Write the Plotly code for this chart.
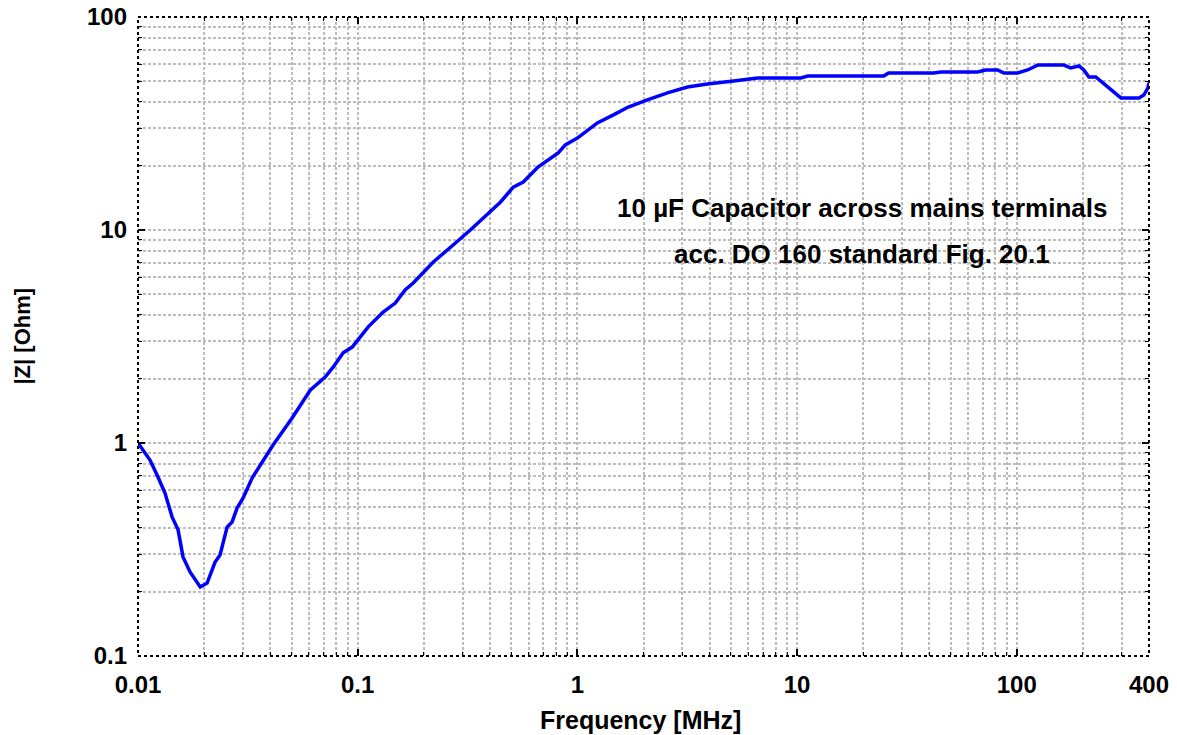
import plotly.graph_objects as go

# Frequency [MHz] and |Z| [Ohm]
freq_mhz = [0.010, 0.01134, 0.01233, 0.01327, 0.01429, 0.01522, 0.01603, 0.01725,
            0.0192, 0.02063, 0.02243, 0.02363, 0.02544, 0.02681, 0.02825, 0.0301,
            0.03307, 0.0367, 0.0412, 0.0503, 0.0608, 0.0711, 0.0773, 0.0859, 0.0944,
            0.1117, 0.1306, 0.1483, 0.1644, 0.179, 0.221, 0.272, 0.3256, 0.446, 0.511,
            0.567, 0.664, 0.818, 0.881, 1.0, 1.233, 1.459, 1.706, 2.084, 2.57, 3.17,
            3.91, 5.14, 6.61, 10.4, 11.2, 24.8, 26.1, 41.9, 45.1, 66.4, 72.2, 81.9,
            87.3, 101, 112, 125, 164, 176, 192, 202, 213, 229, 268, 298, 360, 379,
            395, 400]
z_ohm = [1.0, 0.832, 0.692, 0.582, 0.450, 0.391, 0.292, 0.248,
         0.211, 0.220, 0.276, 0.298, 0.403, 0.426, 0.495, 0.552,
         0.685, 0.805, 0.979, 1.31, 1.77, 2.04, 2.27, 2.65, 2.82,
         3.51, 4.12, 4.54, 5.23, 5.64, 7.08, 8.5, 10.0, 13.5, 15.9,
         16.8, 19.8, 23.0, 25.1, 27.0, 31.8, 34.7, 37.8, 40.8, 44.0, 46.9,
         48.5, 50.1, 51.7, 51.7, 52.8, 52.8, 54.6, 54.6, 55.2, 55.2, 56.4, 56.4,
         54.6, 54.6, 56.4, 59.5, 59.5, 57.6, 58.9, 56.4, 52.3, 52.3, 45.4, 41.7, 41.7, 43.0,
         46.4, 49.0]

x_tickvals = [0.01, 0.1, 1, 10, 100, 400]
x_ticktext = ["0.01", "0.1", "1", "10", "100", "400"]
y_tickvals = [0.1, 1, 10, 100]
y_ticktext = ["0.1", "1", "10", "100"]

x_minor = [k * 10.0 ** e for e in range(-2, 3) for k in range(2, 10) if k * 10.0 ** e < 400]
y_minor = [k * 10.0 ** e for e in range(-1, 2) for k in range(2, 10)]

x_title = "Frequency [MHz]"
y_title = "|Z| [Ohm]"
annotation_lines = ["10 µF Capacitor across mains terminals",
                    "acc. DO 160 standard Fig. 20.1"]

FONT = "Liberation Sans, Arial, sans-serif"
GRID = "#bcbcbc"
GRID_DASH = "3px,2px"

fig = go.Figure()
fig.add_trace(go.Scatter(x=freq_mhz, y=z_ohm, mode="lines",
                         line=dict(color="#0000ff", width=3.5), showlegend=False))

axis_common = dict(
    type="log", showline=False, zeroline=False, mirror="allticks", automargin=False,
    ticks="inside", ticklen=7, tickwidth=1.5, tickcolor="black",
    showgrid=True, gridcolor=GRID, gridwidth=1.5, griddash=GRID_DASH,
    tickfont=dict(family=FONT, size=24, color="black", weight="bold"),
)
minor_common = dict(ticks="inside", ticklen=4, tickcolor="black", tickwidth=1.2,
                    showgrid=True, gridcolor=GRID, gridwidth=1.5, griddash=GRID_DASH)

fig.update_xaxes(
    **axis_common,
    range=[-2, 2.60206],
    tickmode="array", tickvals=x_tickvals, ticktext=x_ticktext,
    ticklabelstandoff=12,
    minor=dict(tickmode="array", tickvals=x_minor, **minor_common),
)
fig.update_yaxes(
    **axis_common,
    range=[-1, 2],
    tickmode="array", tickvals=y_tickvals, ticktext=y_ticktext,
    ticklabelstandoff=10,
    minor=dict(tickmode="array", tickvals=y_minor, **minor_common),
)

# dotted frame around the plot area
fig.add_shape(type="rect", xref="paper", yref="paper", x0=0, x1=1, y0=0, y1=1,
              line=dict(color="black", width=2, dash="dot"), layer="above")

# axis titles
fig.add_annotation(xref="paper", yref="paper", x=0.4975, y=-0.100,
                   text="<b>" + x_title + "</b>", showarrow=False,
                   xanchor="center", yanchor="middle",
                   font=dict(family=FONT, size=25, color="black"))
fig.add_annotation(xref="paper", yref="paper", x=-0.1147, y=0.5,
                   text="<b>" + y_title + "</b>", showarrow=False, textangle=-90,
                   xanchor="center", yanchor="middle",
                   font=dict(family=FONT, size=22, color="black"))

for text, ypos in zip(annotation_lines, [0.701, 0.629]):
    fig.add_annotation(xref="paper", yref="paper", x=0.716, y=ypos, text="<b>" + text + "</b>",
                       showarrow=False, xanchor="center", yanchor="middle",
                       font=dict(family=FONT, size=26, color="black"))

fig.update_layout(
    width=1177, height=735,
    margin=dict(l=138, r=28, t=17, b=79),
    paper_bgcolor="white", plot_bgcolor="white",
    font=dict(family=FONT, color="black"),
)

fig.write_html("out.html", config={"displayModeBar": False},
               post_script="document.body.style.margin='0';document.body.style.overflow='hidden';")
